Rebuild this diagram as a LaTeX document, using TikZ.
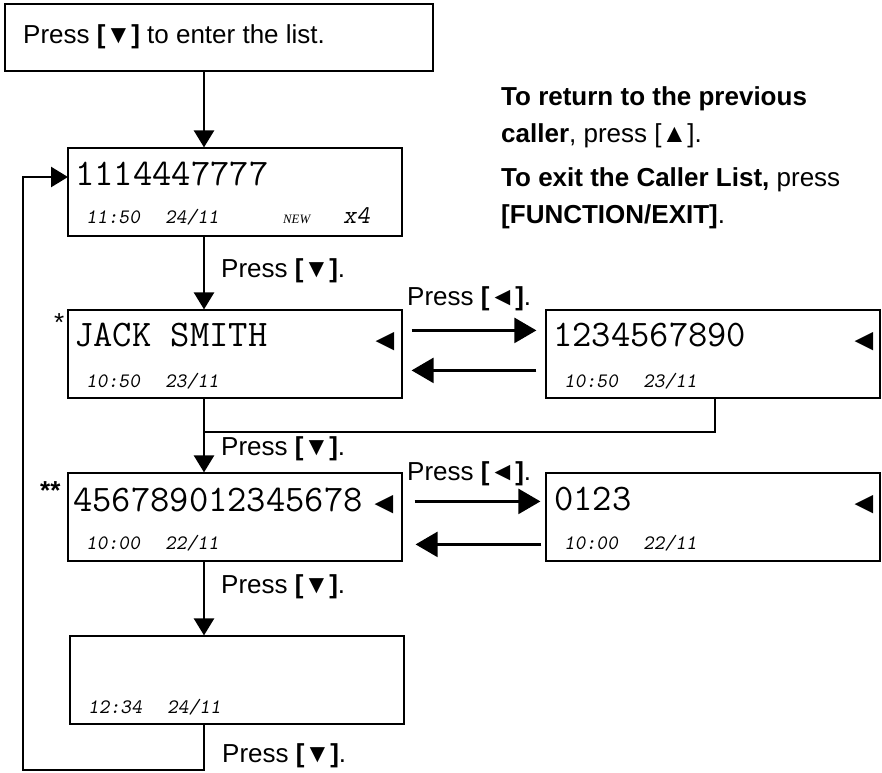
\documentclass[tikz,border=0pt]{standalone}
\usepackage{fontspec}
\setmainfont{Liberation Sans}
\newfontfamily\tagfont{Liberation Serif}
\usetikzlibrary{arrows.meta,calc,positioning}
\tikzset{
  startbox/.style = {draw=black, line width=1.2pt, minimum width=428pt,
    minimum height=67pt, inner sep=0pt},% first step
  disp/.style = {draw=black, line width=1.2pt, minimum width=334pt,
    minimum height=88pt, inner sep=0pt},% display window
  lcd/.style = {anchor=base west, inner sep=0pt,
    font=\ttfamily\fontsize{37.5}{40}\selectfont},% display, top line
  stamp/.style = {anchor=base west, inner sep=0pt,
    font=\ttfamily\slshape\fontsize{20.5}{22}\selectfont},% time and date
  count/.style = {stamp, font=\ttfamily\slshape\fontsize{25.5}{28}\selectfont},
  newtag/.style = {anchor=base west, inner sep=0pt,
    font=\tagfont\itshape\fontsize{12.8}{14}\selectfont},
  cue/.style = {inner sep=0pt, font=\fontsize{31}{34}\selectfont},% scroll mark
  lbl/.style = {anchor=base west, inner sep=0pt,
    font=\fontsize{26}{30}\selectfont},
  note/.style = {lbl, align=left, font=\fontsize{26}{37}\selectfont},
  link/.style = {line width=2.5pt},
  varr/.style = {link, -{Triangle[length=17pt,width=20pt]}},
  harr/.style = {link, -{Triangle[length=22pt,width=25pt]}}
}

\begin{document}
\begin{tikzpicture}[x=1pt,y=-1pt]
  \useasboundingbox (0,0) rectangle (882,772);
  \coordinate (col) at (204,0);% main column
  \coordinate (rcol) at (715,0);
  \coordinate (jn) at (204,432);
  \coordinate (back) at (23,770);
  \coordinate (d1in) at (68,177);

  \node [startbox] (start) at (219,37.5) {};
  \node [lbl] (starttxt) at (23,43) {Press \textbf{[}▼\textbf{]} to enter the list.};

  \node [note] (note1) at (501,142) {\textbf{To return to the previous}\\\textbf{caller}, press [▲].};
  \node [note] (note2) at (501,223) {\textbf{To exit the Caller List,} press\\\textbf{[FUNCTION/EXIT]}.};

  % displays
  \node [disp] (d1) at (235,192) {};
  \node [lcd] (d1num) at (75,185) {1114447777};
  \node [stamp] (d1time) at (86,223) {11:50\hspace{25pt}24/11};
  \node [newtag] (d1new) at (283,223) {NEW};
  \node [count] (d1cnt) at (343,223) {x4};

  \node [disp] (d2) at (235,354) {};
  \node [lbl] (d2star) at (54,331) {*};
  \node [lcd] (d2num) at (74,346) {JACK SMITH};
  \node [cue] (d2cue) at (385,342) {◄};
  \node [stamp] (d2time) at (86,387) {10:50\hspace{25pt}23/11};

  \node [disp] (d2b) at (713,354) {};
  \node [lcd] (d2bnum) at (553,346) {1234567890};
  \node [cue] (d2bcue) at (864,342) {◄};
  \node [stamp] (d2btime) at (564,387) {10:50\hspace{25pt}23/11};

  \node [disp] (d3) at (235,517) {};
  \node [lbl] (d3star) at (40,499) {\textbf{**}};
  \node [lcd] (d3num) at (73,511) {456789012345678};
  \node [cue] (d3cue) at (384,505) {◄};
  \node [stamp] (d3time) at (86,549) {10:00\hspace{25pt}22/11};

  \node [disp] (d3b) at (713,517) {};
  \node [lcd] (d3bnum) at (554,510) {0123};
  \node [cue] (d3bcue) at (864,505) {◄};
  \node [stamp] (d3btime) at (564,549) {10:00\hspace{25pt}22/11};

  \node [disp] (d4) at (237,680) {};
  \node [stamp] (d4time) at (88,713) {12:34\hspace{25pt}24/11};

  % labels
  \node [lbl] (l1) at (221,277) {Press \textbf{[}▼\textbf{]}.};
  \node [lbl] (l2) at (407,305) {Press \textbf{[}◄\textbf{]}.};
  \node [lbl] (l3) at (221,455) {Press \textbf{[}▼\textbf{]}.};
  \node [lbl] (l4) at (407,480) {Press \textbf{[}◄\textbf{]}.};
  \node [lbl] (l5) at (221,593) {Press \textbf{[}▼\textbf{]}.};
  \node [lbl] (l6) at (222,762) {Press \textbf{[}▼\textbf{]}.};

  % connectors
  \draw [varr] (start.south -| col) -- (d1.north -| col);
  \draw [varr] (d1.south -| col) -- (d2.north -| col);
  \draw [varr] (d2.south -| col) -- (d3.north -| col);
  \draw [link] (d2b.south -| rcol) |- (jn);
  \draw [varr] (d3.south -| col) -- (d4.north -| col);
  \draw [varr] (d4.south -| col) |- (back) |- (d1in);

  \coordinate (r2) at ($(d2.north east)+(0,21)$);
  \coordinate (b2) at ($(d2b.north west)+(0,61)$);
  \coordinate (r3) at ($(d3.north east)+(0,29)$);
  \coordinate (b3) at ($(d3b.north west)+(0,72)$);
  \draw [harr, shorten <=9pt, shorten >=9pt] (r2) -- (r2 -| d2b.west);
  \draw [harr, shorten <=9pt, shorten >=9pt] (b2) -- (b2 -| d2.east);
  \draw [harr, shorten <=12pt, shorten >=5pt] (r3) -- (r3 -| d3b.west);
  \draw [harr, shorten <=4pt, shorten >=13pt] (b3) -- (b3 -| d3.east);
\end{tikzpicture}
\end{document}
